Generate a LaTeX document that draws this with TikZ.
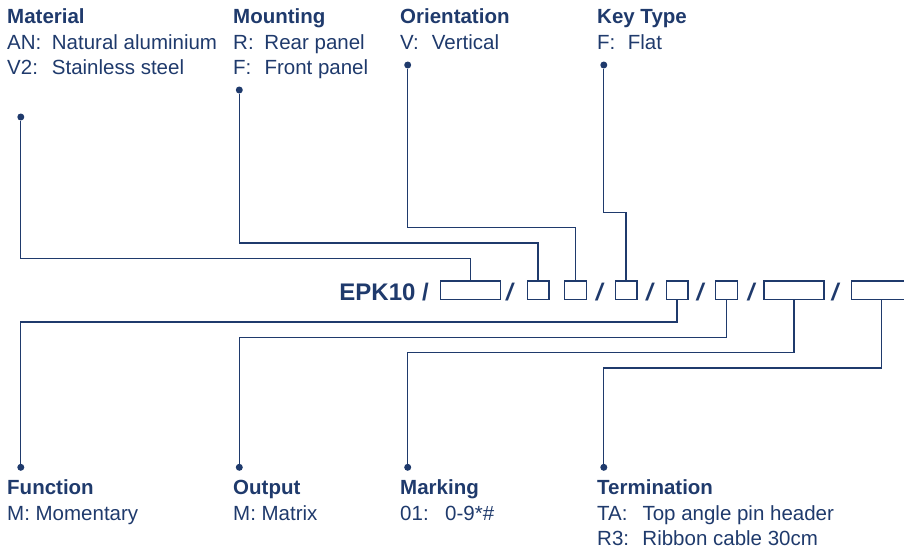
\documentclass[tikz,border=0pt]{standalone}
\usepackage{fontspec}
\setmainfont{Liberation Sans}
\usepackage{tikz}
\usetikzlibrary{positioning, calc}
\definecolor{codenavy}{RGB}{31, 58, 108}

\newcommand{\keyentry}[3]{\makebox[#1][l]{#2}#3}

\begin{document}
\begin{tikzpicture}[
    x=1pt, y=-1pt,
    every node/.style={text=codenavy},
    head/.style={anchor=base west, inner sep=0pt, font=\fontsize{20.5pt}{25pt}\selectfont\bfseries},
    entry/.style={anchor=base west, inner sep=0pt, font=\fontsize{20.5pt}{25pt}\selectfont},
    field/.style={draw=codenavy, line width=1.3pt, minimum height=18.3pt, inner sep=0pt},
    wide/.style={field, minimum width=60pt},
    narrow/.style={field, minimum width=21.7pt},
    sep/.style={anchor=base, inner sep=0pt, font=\fontsize{24pt}{28pt}\selectfont\bfseries\itshape},
    dot/.style={circle, fill=codenavy, inner sep=0pt, minimum size=7pt},
    lead/.style={draw=codenavy, line width=1.3pt}
]
    \clip (0, 0) rectangle (904, 554);

    % --- ORDER CODE ---
    \node[sep, anchor=base east, font=\fontsize{24pt}{28pt}\selectfont\bfseries] (code) at (429, 300) {EPK10 /};
    \node[wide] (bmat) at (470.3, 290.2) {};
    \node[sep] (s1) at (509.5, 300) {/};
    \node[narrow] (bmount) at (538, 290.2) {};
    \node[narrow] (bori) at (575.5, 290.2) {};
    \node[sep] (s2) at (599.3, 300) {/};
    \node[narrow] (bkey) at (626, 290.2) {};
    \node[sep] (s3) at (649.5, 300) {/};
    \node[narrow] (bfun) at (677, 290.2) {};
    \node[sep] (s4) at (700, 300) {/};
    \node[narrow] (bout) at (726.5, 290.2) {};
    \node[sep] (s5) at (751, 300) {/};
    \node[wide] (bmark) at (794, 290.2) {};
    \node[sep] (s6) at (835, 300) {/};
    \node[wide] (bterm) at (881.5, 290.2) {};

    % --- TOP ROW ---
    \node[head] (mat) at (7, 23.3) {Material};
    \node[entry] (matan) at (7, 49.3) {\keyentry{44.7pt}{AN:}{Natural aluminium}};
    \node[entry] (matv) at (7, 74) {\keyentry{44.7pt}{V2:}{Stainless steel}};

    \node[head] (mount) at (233, 23.3) {Mounting};
    \node[entry] (mountr) at (233, 49.3) {\keyentry{31.3pt}{R:}{Rear panel}};
    \node[entry] (mountf) at (233, 74) {\keyentry{31.3pt}{F:}{Front panel}};

    \node[head] (ori) at (400, 23.3) {Orientation};
    \node[entry] (oriv) at (400, 49.3) {\keyentry{31.7pt}{V:}{Vertical}};

    \node[head] (key) at (597, 23.3) {Key Type};
    \node[entry] (keyf) at (597, 49.3) {\keyentry{30.7pt}{F:}{Flat}};

    \node[dot] (dmat) at (20.8, 117) {};
    \node[dot] (dmount) at (239.3, 90) {};
    \node[dot] (dori) at (407.7, 65) {};
    \node[dot] (dkey) at (603.8, 65) {};

    \draw[lead] (dmat) |- ([yshift=22pt]bmat.north) -- (bmat.north);
    \draw[lead] (dmount) |- ([yshift=37.3pt]bmount.north) -- (bmount.north);
    \draw[lead] (dori) |- ([yshift=52.6pt]bori.north) -- (bori.north);
    \draw[lead] (dkey) |- ([yshift=67.9pt]bkey.north) -- (bkey.north);

    % --- BOTTOM ROW ---
    \node[dot] (dfun) at (20.8, 467.3) {};
    \node[dot] (dout) at (239.3, 467.3) {};
    \node[dot] (dmark) at (407.7, 467.3) {};
    \node[dot] (dterm) at (603.8, 467.3) {};

    \draw[lead] (bfun.south) -- ([yshift=-22pt]bfun.south) -| (dfun);
    \draw[lead] (bout.south) -- ([yshift=-37.3pt]bout.south) -| (dout);
    \draw[lead] (bmark.south) -- ([yshift=-52.6pt]bmark.south) -| (dmark);
    \draw[lead] (bterm.south) -- ([yshift=-67.9pt]bterm.south) -| (dterm);

    \node[head] (fun) at (7, 494.5) {Function};
    \node[entry] (funm) at (7, 520) {M: Momentary};

    \node[head] (out) at (233, 494.5) {Output};
    \node[entry] (outm) at (233, 520) {M: Matrix};

    \node[head] (mark) at (400, 494.5) {Marking};
    \node[entry] (mark01) at (400, 520) {\keyentry{45pt}{01:}{0-9*\#}};

    \node[head] (term) at (597, 494.5) {Termination};
    \node[entry] (termta) at (597, 520) {\keyentry{45.3pt}{TA:}{Top angle pin header}};
    \node[entry] (termr) at (597, 545) {\keyentry{45.3pt}{R3:}{Ribbon cable 30cm}};

\end{tikzpicture}
\end{document}
